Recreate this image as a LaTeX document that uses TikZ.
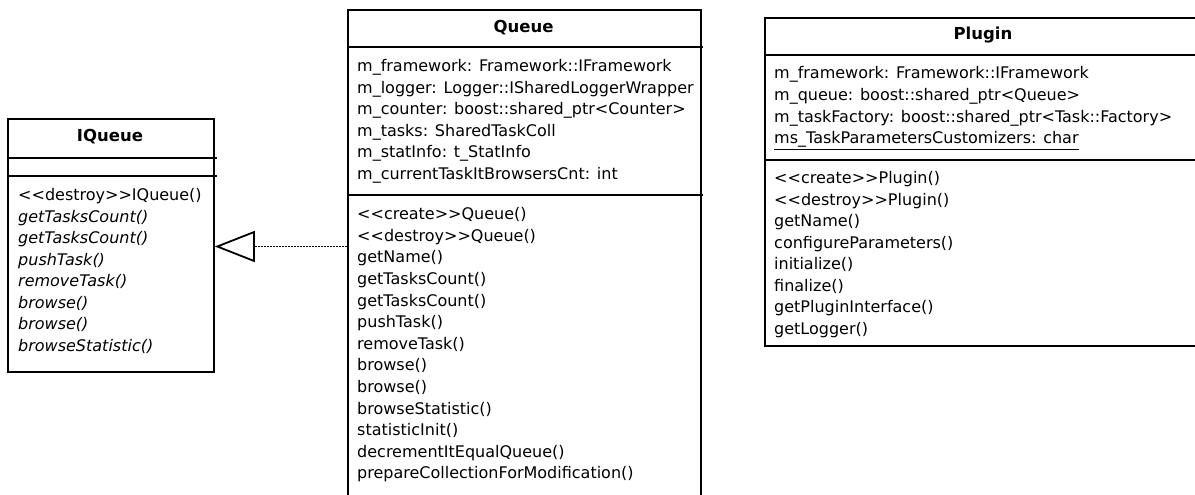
\documentclass[tikz,border=0pt]{standalone}
\usepackage{fontspec}
\setmainfont{DejaVu Sans}
\usetikzlibrary{arrows.meta}
\begin{document}
\begin{tikzpicture}[x=1pt,y=-1pt,
  umlbox/.style={draw, line width=1.8pt, inner sep=0pt, anchor=north west},
  row/.style={anchor=west, inner sep=0pt, text height=11pt, text depth=3.5pt,
    font=\fontsize{16}{18}\selectfont},
  absrow/.style={row, font=\fontsize{16}{18}\selectfont\itshape},
  classname/.style={anchor=center, inner sep=0pt, text height=11pt, text depth=3.5pt,
    font=\fontsize{16.5}{18}\selectfont\bfseries},
  sep/.style={line width=1.8pt},
  realizes/.style={line width=1.7pt, dash pattern=on 1.6pt off 1.4pt,
    -{Triangle[open, length=40pt, width=31pt, line width=1.8pt]}}]
\useasboundingbox (0,0) rectangle (1195,495);
\fill[white] (0,0) rectangle (1195,495);
\clip (0,0) rectangle (1195,495);

% class boxes
\node[umlbox, minimum width=206pt, minimum height=253pt] (iq) at (7,118) {};
\node[umlbox, minimum width=353pt, minimum height=491pt] (q) at (347,9) {};
\node[umlbox, minimum width=438pt, minimum height=328pt] (pl) at (764,17) {};

% compartment separators
\draw[sep] (iq.west |- 0,158) -- (217,158);
\draw[sep] (iq.west |- 0,176) -- (217,176);
\draw[sep] (q.west |- 0,47) -- (703,47);
\draw[sep] (q.west |- 0,195) -- (703,195);
\draw[sep] (pl.west |- 0,55) -- (1195,55);
\draw[sep] (pl.west |- 0,160) -- (1195,160);

% IQueue
\node[classname] (iqname) at (110,138) {IQueue};
\foreach \t [count=\i from 0] in {{\upshape<{}<destroy>{}>IQueue()}, getTasksCount(),
  getTasksCount(), pushTask(), removeTask(), browse(), browse(), browseStatistic()}
  \node[absrow] (iqm\i) at (18,197+21.5*\i) {\t};

% Queue
\node[classname] (qname) at (523.5,29) {Queue};
\foreach \t [count=\i from 0] in {m\_framework: Framework::IFramework,
  m\_logger: Logger::ISharedLoggerWrapper,
  m\_counter: boost::shared\_ptr<Counter>,
  m\_tasks: SharedTaskColl,
  m\_statInfo: t\_StatInfo,
  m\_currentTaskItBrowsersCnt: int}
  \node[row] (qa\i) at (357,68+21.5*\i) {\t};
\foreach \t [count=\i from 0] in {<{}<create>{}>Queue(), <{}<destroy>{}>Queue(), getName(),
  getTasksCount(), getTasksCount(), pushTask(), removeTask(), browse(), browse(),
  browseStatistic(), statisticInit(), decrementItEqualQueue(),
  prepareCollectionForModification()}
  \node[row] (qm\i) at (357,216+21.6*\i) {\t};

% Plugin
\node[classname] (plname) at (983,36) {Plugin};
\foreach \t [count=\i from 0] in {m\_framework: Framework::IFramework,
  m\_queue: boost::shared\_ptr<Queue>,
  m\_taskFactory: boost::shared\_ptr<Task::Factory>,
  \underline{ms\_TaskParametersCustomizers: char}}
  \node[row] (pla\i) at (774,75+21.7*\i) {\t};
\foreach \t [count=\i from 0] in {<{}<create>{}>Plugin(), <{}<destroy>{}>Plugin(), getName(),
  configureParameters(), initialize(), finalize(), getPluginInterface(), getLogger()}
  \node[row] (plm\i) at (774,180+21.5*\i) {\t};

% Queue realizes IQueue
\draw[realizes] (q.west |- 0,246.5) -- (iq.east |- 0,246.5);
\end{tikzpicture}
\end{document}
